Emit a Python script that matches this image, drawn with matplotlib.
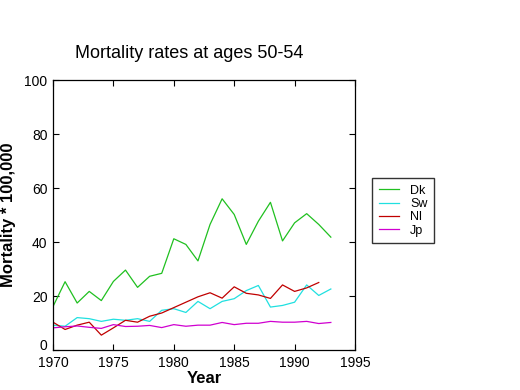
import matplotlib
matplotlib.use("Agg")
import matplotlib.pyplot as plt
import matplotlib.transforms as mtransforms
import numpy as np

years = list(range(1970, 1994))

dk = [16.1, 25.3, 17.4, 21.7, 18.3, 25.4, 29.6, 23.2, 27.3, 28.4, 41.2, 39.1,
      33.0, 46.5, 56.0, 50.2, 39.1, 47.7, 54.7, 40.4, 47.1, 50.5, 46.5, 41.8]
sw = [9.2, 8.8, 12.0, 11.6, 10.6, 11.4, 11.0, 11.6, 10.6, 14.7, 15.3, 13.9,
      18.0, 15.3, 18.0, 19.0, 22.0, 23.9, 15.9, 16.5, 17.7, 24.1, 20.2, 22.6]
nl = [10.3, 7.6, 9.2, 10.3, 5.5, 8.2, 11.0, 10.3, 12.5, 13.7, 15.7, 17.7,
      19.7, 21.2, 19.2, 23.4, 21.0, 20.4, 19.1, 24.1, 21.7, 23.0, 25.0]
jp = [8.2, 8.6, 8.9, 8.4, 8.0, 9.4, 8.7, 8.8, 9.1, 8.3, 9.4, 8.8,
      9.2, 9.2, 10.2, 9.4, 9.9, 9.9, 10.6, 10.3, 10.3, 10.6, 9.8, 10.2]

labels = ["Dk", "Sw", "Nl", "Jp"]
colors = ["#20c020", "#20e0e0", "#c00000", "#d000d0"]

plt.rcParams["font.family"] = ["Liberation Sans", "DejaVu Sans"]

fig = plt.figure(figsize=(5.2, 3.9), dpi=100, facecolor="white")
ax = fig.add_axes([53 / 520, 1 - 350 / 390, 302 / 520, 270 / 390])

for data, lab, col in zip([dk, sw, nl, jp], labels, colors):
    ax.plot(years[:len(data)], data, color=col, linewidth=0.9, label=lab)

ax.set_xlim(1970, 1995)
ax.set_ylim(0, 100)
ax.set_xticks(range(1970, 1996, 5))
ax.set_yticks(range(0, 101, 20))
ax.tick_params(direction="in", top=True, right=True, labelsize=10,
               length=4, width=0.8)
ax.tick_params(axis="x", pad=4)
ax.tick_params(axis="y", pad=4)
# lift the "0" label a few pixels so it clears "1970"
zero = ax.get_yticklabels()[0]
zero.set_transform(zero.get_transform() +
                   mtransforms.ScaledTranslation(0, 5 / 100, fig.dpi_scale_trans))
for s in ax.spines.values():
    s.set_linewidth(0.9)

ax.set_title("Mortality rates at ages 50-54", fontsize=13, pad=16, x=0.45)
ax.set_xlabel("Year", fontsize=12, fontweight="bold", labelpad=1)
ax.set_ylabel("Mortality * 100,000", fontsize=12, fontweight="bold",
              labelpad=6)

fig.legend(loc="upper left", bbox_to_anchor=(372 / 520, 1 - 178 / 390),
           fontsize=9, frameon=True, fancybox=False, edgecolor="black",
           handlelength=1.6, borderpad=0.55, labelspacing=0.1,
           handletextpad=0.9, borderaxespad=0)

fig.savefig("out.png", dpi=100, facecolor="white")
